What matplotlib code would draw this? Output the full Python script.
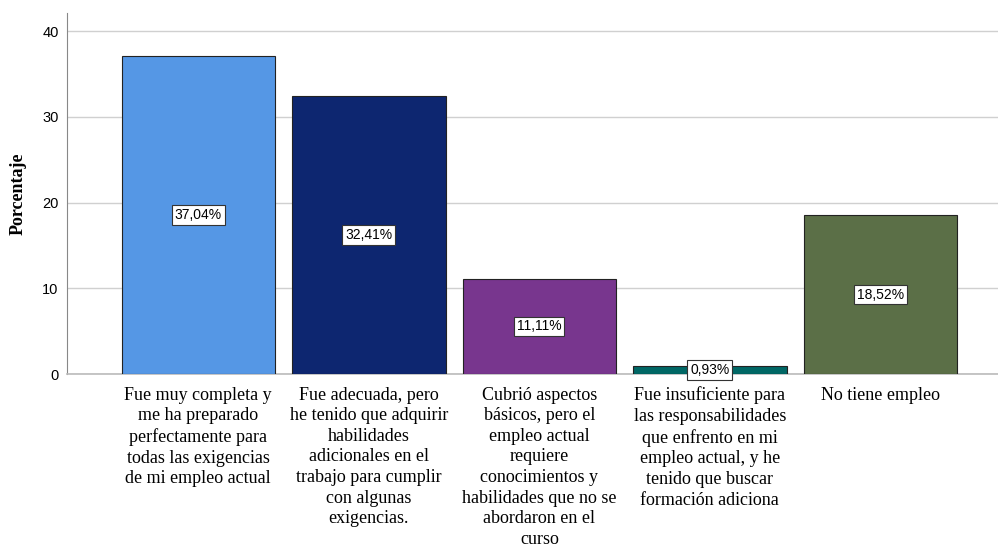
import numpy as np
import matplotlib
matplotlib.use("Agg")
import matplotlib.pyplot as plt

categories = [
    "Fue muy completa y\nme ha preparado\nperfectamente para\ntodas las exigencias\nde mi empleo actual",
    "Fue adecuada, pero\nhe tenido que adquirir\nhabilidades\nadicionales en el\ntrabajo para cumplir\ncon algunas\nexigencias.",
    "Cubrió aspectos\nbásicos, pero el\nempleo actual\nrequiere\nconocimientos y\nhabilidades que no se\nabordaron en el\ncurso",
    "Fue insuficiente para\nlas responsabilidades\nque enfrento en mi\nempleo actual, y he\ntenido que buscar\nformación adiciona",
    "No tiene empleo",
]
values = [37.04, 32.41, 11.11, 0.93, 18.52]
colors = ["#5597E5", "#0D2670", "#78368E", "#006765", "#5B6F47"]
yticks = [0, 10, 20, 30, 40]

fig = plt.figure(figsize=(9.98, 5.49), dpi=100)
ax = fig.add_axes([67/998, (549-374)/549, (998-67)/998, (374-13)/549])

x = np.arange(len(values))
ax.bar(x, values, width=0.9, color=colors, edgecolor="#222222", linewidth=0.8, zorder=3)

for xi, v in zip(x, values):
    ax.text(xi, v/2, f"{v:.2f}".replace(".", ",") + "%", ha="center", va="center",
            fontsize=10, family="Liberation Sans", zorder=5,
            bbox=dict(boxstyle="square,pad=0.2", fc="white", ec="#333333", lw=0.8))

ax.set_xlim(-0.77, 4.69)
ax.set_ylim(0, 42.1)
ax.set_yticks(yticks)
ax.set_yticklabels([str(t) for t in yticks], family="Liberation Sans", fontsize=10.5)
ax.set_xticks(x)
ax.set_xticklabels(categories, family="Liberation Serif", fontsize=13, va="top",
                   linespacing=1.28)
ax.tick_params(axis="both", length=0, pad=6)
ax.tick_params(axis="x", pad=9)
ax.yaxis.grid(True, color="#d0d0d0", linewidth=1, zorder=0)
ax.set_axisbelow(True)
for s in ["top", "right"]:
    ax.spines[s].set_visible(False)
ax.spines["left"].set_color("#888888")
ax.spines["bottom"].set_color("#bbbbbb")
ax.spines["bottom"].set_linewidth(1.2)
ax.set_ylabel("Porcentaje", family="Liberation Serif", fontweight="bold", fontsize=13,
              labelpad=11)

fig.savefig("out.png", dpi=100)
